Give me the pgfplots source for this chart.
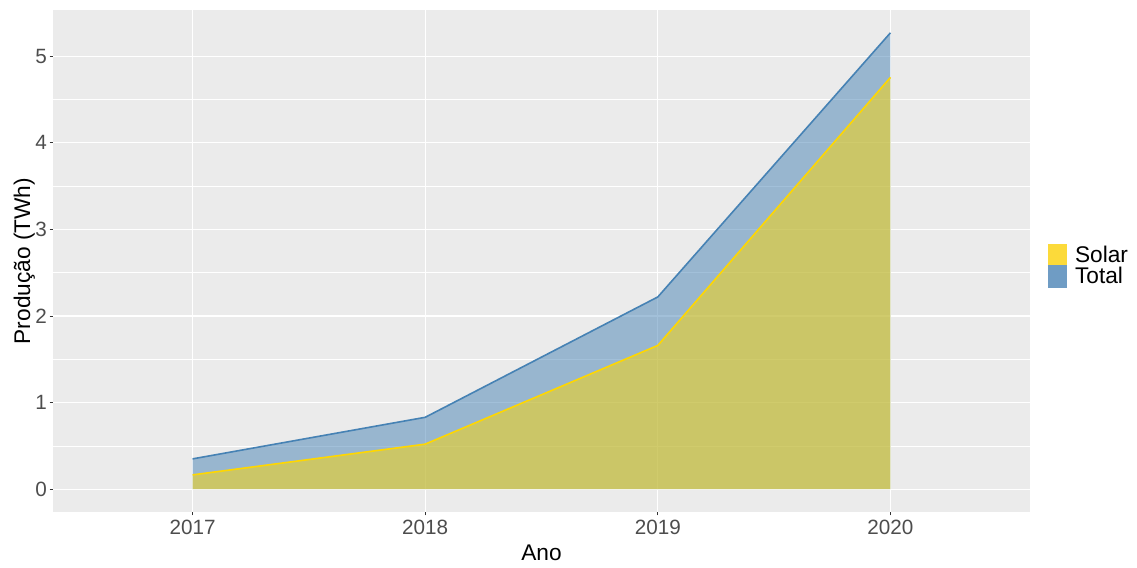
\documentclass[border=0pt]{standalone}
\usepackage{pgfplots}
\pgfplotsset{compat=1.18}
\usepackage{fontspec}
\setmainfont{Liberation Sans}
\definecolor{panel}{HTML}{EBEBEB}
\definecolor{steel}{RGB}{70,130,180}
\definecolor{gold}{RGB}{255,215,0}
\definecolor{keysolar}{HTML}{FCDA3A}
\definecolor{keytotal}{HTML}{6F9CC4}
\definecolor{ticktxt}{HTML}{4D4D4D}
\begin{document}
\begin{tikzpicture}
\path[use as bounding box] (-39.75pt,-41.25pt) rectangle (813pt,384pt);
\begin{axis}[
  at={(0,0)}, anchor=south west,
  scale only axis, width=732.75pt, height=376.5pt,
  xmin=2016.4, xmax=2020.6, ymin=-0.2635, ymax=5.5335,
  xtick={2017,2018,2019,2020}, ytick={0,1,2,3,4,5},
  minor ytick={0.5,1.5,2.5,3.5,4.5},
  xtick pos=bottom, ytick pos=left,
  xticklabel style={/pgf/number format/1000 sep={}},
  yticklabel style={xshift=1.5pt},
  /pgf/number format/assume math mode=true,
  ticklabel style={font=\fontsize{15.5}{18}\selectfont, text=ticktxt},
  axis background/.style={fill=panel},
  axis line style={draw=none},
  tick align=outside, major tick length=2.6pt, minor tick length=0pt,
  tick style={draw=black!80, line width=0.6pt},
  grid=both,
  major grid style={white, line width=0.9pt},
  minor grid style={white, line width=0.45pt},
  xlabel={Ano}, ylabel={Produção (TWh)},
  label style={font=\fontsize{17}{20}\selectfont},
  xlabel style={yshift=-0.75pt},
  ylabel style={yshift=-6.5pt},
  legend style={at={(1.018,0.49)}, anchor=west, draw=none, fill=none,
    font=\fontsize{17}{16.5}\selectfont, row sep=-2pt, inner sep=0pt,
    cells={anchor=west}},
  legend cell align=left,
]
% Total
\addplot[draw=none, fill=steel, fill opacity=0.5, forget plot]
  coordinates {(2017,0.35) (2018,0.83) (2019,2.22) (2020,5.27)} \closedcycle;
\addplot[steel, line width=1.2pt, forget plot]
  coordinates {(2017,0.35) (2018,0.83) (2019,2.22) (2020,5.27)};
% Solar
\addplot[draw=none, fill=gold, fill opacity=0.5, forget plot]
  coordinates {(2017,0.165) (2018,0.52) (2019,1.66) (2020,4.755)} \closedcycle;
\addplot[gold, line width=1.2pt, forget plot]
  coordinates {(2017,0.165) (2018,0.52) (2019,1.66) (2020,4.755)};
\addlegendimage{legend image code/.code={\fill[keysolar] (0pt,-8.25pt) rectangle (13.5pt,8.25pt); \path (18pt,0pt);}}
\addlegendentry{Solar}
\addlegendimage{legend image code/.code={\fill[keytotal] (0pt,-8.25pt) rectangle (13.5pt,8.25pt); \path (18pt,0pt);}}
\addlegendentry{Total}
\end{axis}
\end{tikzpicture}
\end{document}
